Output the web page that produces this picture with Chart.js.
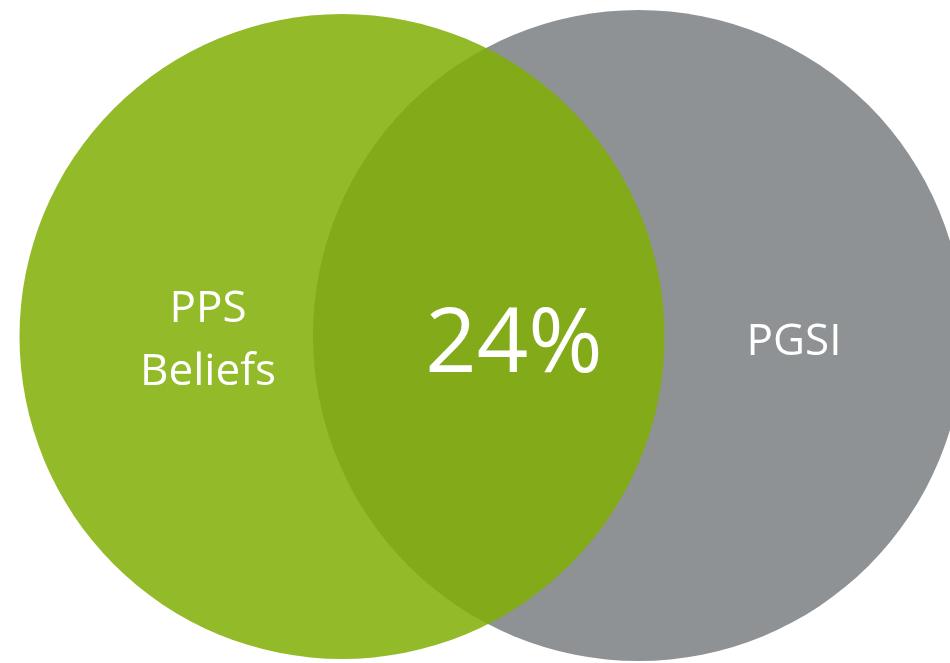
<!DOCTYPE html>
<html>
<head>
<meta charset="utf-8">
<script src="https://cdn.jsdelivr.net/npm/chart.js@4.4.1/dist/chart.umd.min.js"></script>
<style>
  html, body { margin: 0; padding: 0; background: #fff; }
  #wrap { width: 950px; height: 663px; }
</style>
</head>
<body>
<div id="wrap"><canvas id="venn" width="950" height="663"></canvas></div>
<script>
// sets (Chart.js paints dataset 0 on top, so green sits over gray)
var setNames = ['PPS Beliefs', 'PGSI'];
var setCenterX = [342, 638.5];
var setCenterY = [336.5, 335.5];
var setRadius = [322.5, 325.5];
var setColors = ['rgba(128, 174, 3, 0.85)', 'rgb(143, 146, 148)'];

// overlap share
var overlapLabel = '24%';

// label anchors (same units as the circles)
var labelLines = [['PPS', 'Beliefs'], ['PGSI'], [overlapLabel]];
var labelX = [208, 794, 514];
var labelY = [[322, 385], [355], [372]];
var labelSize = [44, 44, 90];

var vennLabels = {
  id: 'vennLabels',
  afterDatasetsDraw: function(chart) {
    var ctx = chart.ctx;
    var xs = chart.scales.x, ys = chart.scales.y;
    ctx.save();
    ctx.fillStyle = '#fff';
    ctx.textAlign = 'center';
    ctx.textBaseline = 'alphabetic';
    labelLines.forEach(function(lines, i) {
      ctx.font = labelSize[i] + 'px "Open Sans"';
      lines.forEach(function(t, j) {
        ctx.fillText(t, xs.getPixelForValue(labelX[i]), ys.getPixelForValue(labelY[i][j]));
      });
    });
    ctx.restore();
  }
};

var ctx = document.getElementById('venn').getContext('2d');
var chart = new Chart(ctx, {
  type: 'bubble',
  data: {
    datasets: setNames.map(function(name, i) {
      return {
        label: name,
        data: [{ x: setCenterX[i], y: setCenterY[i], r: setRadius[i] }],
        backgroundColor: setColors[i],
        borderWidth: 0,
        hoverRadius: 0,
        clip: false
      };
    })
  },
  options: {
    responsive: false,
    animation: false,
    events: [],
    layout: { padding: 0, autoPadding: false },
    scales: {
      x: { type: 'linear', min: 0, max: 950, display: false },
      y: { type: 'linear', min: 0, max: 663, reverse: true, display: false }
    },
    plugins: {
      legend: { display: false },
      tooltip: { enabled: false }
    }
  },
  plugins: [vennLabels]
});
</script>
</body>
</html>
